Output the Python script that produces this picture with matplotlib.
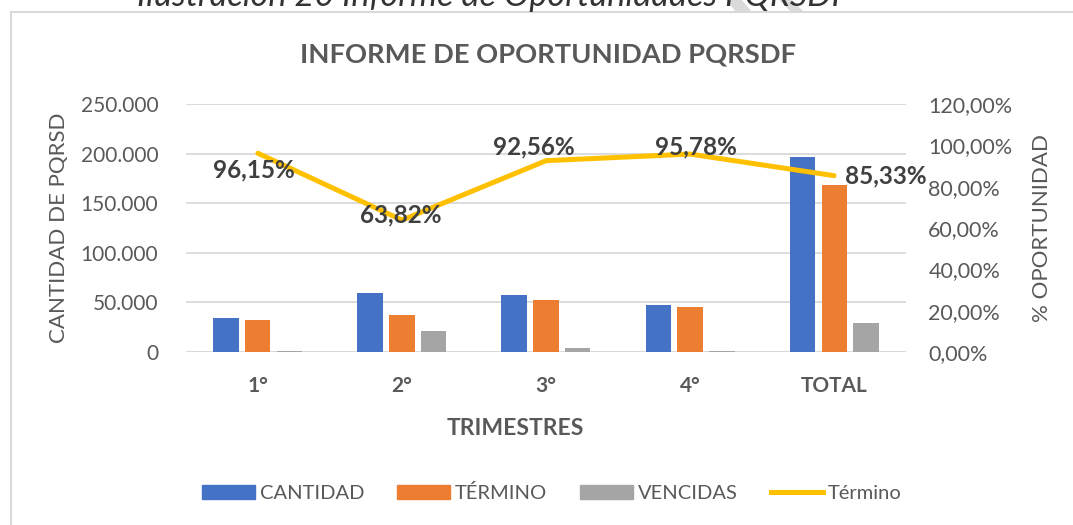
import numpy as np
import matplotlib.pyplot as plt
from matplotlib.patches import Rectangle, Polygon
from matplotlib.lines import Line2D
from matplotlib.ticker import FuncFormatter

plt.rcParams['font.family'] = ['Lato', 'DejaVu Sans']

# ~~~~~~~~~~~~~~~~~~~~~~~~~~~~~~~ data ~~~~~~~~~~~~~~~~~~~~~~~~~~~~~~~~~~~~~~~~#
trimestres = ["1°", "2°", "3°", "4°", "TOTAL"]
cantidad = [34000, 59500, 57100, 46900, 197000]
termino = [32300, 37800, 52700, 44900, 168000]
vencidas = [900, 21100, 3700, 1100, 28900]
oportunidad = [96.15, 63.82, 92.56, 95.78, 85.33]
etiquetas = ["96,15%", "63,82%", "92,56%", "95,78%", "85,33%"]

c_txt = "#595959"
c_lab = "#404040"
c_grid = "#D9D9D9"

W, H = 1073, 525
fig = plt.figure(figsize=(10.73, 5.25), dpi=100)
ax = fig.add_axes([0.1733, 0.3295, 0.6711, 0.4724])
ax2 = ax.twinx()

def px(xp, yp):
    return (xp / W, 1 - yp / H)

# frame + caption (caption is cut at the top, as in the source page)
fig.patches.append(Rectangle(px(11, H + 5), 1.0, (H + 5 - 12) / H,
                             transform=fig.transFigure, fill=False,
                             edgecolor=c_grid, lw=1.5))
for p in ([(727, 0), (741, 0), (751, 12), (737, 12)],
          [(780, 0), (791, 0), (803, 12), (792, 12)]):
    fig.patches.append(Polygon([px(a, b) for a, b in p], closed=True,
                               transform=fig.transFigure, color="#DADADA",
                               zorder=0))
fig.text(493/W, 1 - 6/H, "Ilustración 20 Informe de Oportunidades PQRSDF",
         ha="center", va="baseline", fontsize=24.7, style="italic",
         color="#333333")

x = np.arange(len(trimestres))
w = 0.174
d = 0.222
ax.bar(x - d, cantidad, w, color="#4472C4", zorder=3)
ax.bar(x, termino, w, color="#ED7D31", zorder=3)
ax.bar(x + d, vencidas, w, color="#A5A5A5", zorder=3)

ax.set_xlim(-0.5, 4.5)
ax.set_ylim(0, 250000)
ax.set_yticks(np.arange(0, 250001, 50000))
ax.yaxis.set_major_formatter(FuncFormatter(
    lambda v, p: "0" if v == 0 else f"{int(v):,}".replace(",", ".")))
ax.grid(axis="y", color=c_grid, lw=1.3, zorder=0)
ax.set_axisbelow(True)
for s in ax.spines.values():
    s.set_visible(False)
for s in ax2.spines.values():
    s.set_visible(False)
ax.axhline(0, color=c_grid, lw=1.3, zorder=1)

ax.set_xticks(x)
ax.set_xticklabels(trimestres, fontweight="bold", fontsize=15, color=c_txt)
ax.tick_params(axis="x", length=0, pad=17)
ax.tick_params(axis="y", length=0, labelsize=15, labelcolor=c_txt, pad=20)
ax.set_ylabel("CANTIDAD DE PQRSD", fontsize=16, color=c_txt, labelpad=8)
ax.set_xlabel("TRIMESTRES", fontsize=16.5, fontweight="bold", color=c_txt)
ax.xaxis.set_label_coords((515 - 186) / 720, -(428 - 352) / 248)
ax.xaxis.label.set_va("center")

ax2.plot(x, oportunidad, color="#FFC000", lw=3.6, zorder=4,
         solid_capstyle="round")
ax2.set_ylim(0, 120)
ax2.set_yticks(np.arange(0, 121, 20))
ax2.yaxis.set_major_formatter(FuncFormatter(lambda v, p: f"{v:.2f}%".replace(".", ",")))
ax2.tick_params(axis="y", length=0, labelsize=15.5, labelcolor=c_txt, pad=16)
ax2.set_ylabel("% OPORTUNIDAD", fontsize=16, color=c_txt, labelpad=14)

offs = [(-3, -12), (-1, 4), (-9, 10), (4, 5), (37, 0)]
for i in range(len(x)):
    ax2.annotate(etiquetas[i], (x[i], oportunidad[i]), xytext=offs[i],
                 textcoords="offset points", ha="center", va="center",
                 fontsize=17.5, fontweight="bold", color=c_lab, zorder=5)

fig.text(548/W, 1 - 54/H, "INFORME DE OPORTUNIDAD PQRSDF", ha="center",
         va="center", fontsize=19.7, fontweight="bold", color=c_txt)

handles = [Rectangle((0, 0), 1, 1, color="#4472C4"),
           Rectangle((0, 0), 1, 1, color="#ED7D31"),
           Rectangle((0, 0), 1, 1, color="#A5A5A5"),
           Line2D([0], [0], color="#FFC000", lw=3.6)]
fig.legend(handles, ["CANTIDAD", "TÉRMINO", "VENCIDAS", "Término"],
           loc="center", bbox_to_anchor=(552/W, 1 - 493/H), ncol=4,
           frameon=False, fontsize=14.5, labelcolor=c_txt, handlelength=2.6,
           handleheight=0.65, handletextpad=0.25, columnspacing=1.65)

fig.savefig("out.png", dpi=100)
